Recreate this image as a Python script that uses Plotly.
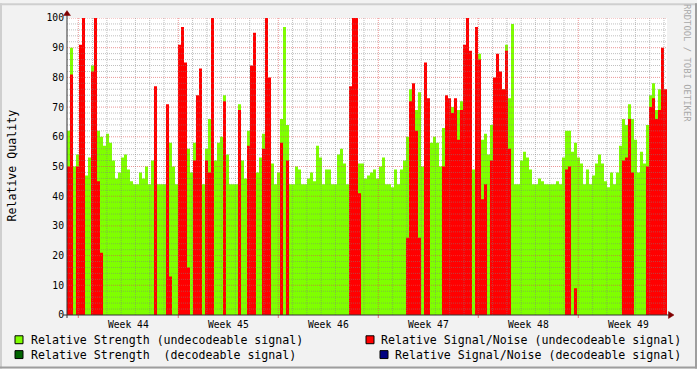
import plotly.graph_objects as go

# ---------------- data ----------------
STEP_DAYS = 0.21          # spacing of the samples (days)
FIRST_WEEK_START = 0.79   # days from the left edge of the graph to the start of week 44
N_DAYS = 42

# Relative Strength (undecodeable signal), green area
strength_undec = [
    62, 90, 50, 54, 77, 90, 47, 53, 84, 96,
    62, 60, 57, 61, 58, 52, 46, 48, 53, 54,
    49, 45, 44, 44, 48, 46, 50, 44, 52, 56,
    44, 44, 44, 60, 58, 50, 44, 60, 70, 56,
    56, 48, 58, 68, 58, 44, 56, 66, 58, 52,
    58, 60, 74, 54, 44, 44, 44, 71, 52, 46,
    62, 72, 70, 48, 53, 61, 80, 60, 51, 44,
    48, 66, 97, 64, 44, 44, 50, 49, 44, 44,
    46, 48, 45, 57, 53, 44, 49, 49, 44, 44,
    54, 56, 51, 44, 66, 80, 76, 51, 51, 46,
    47, 48, 49, 46, 50, 53, 44, 44, 43, 49,
    44, 49, 52, 60, 76, 74, 69, 75, 50, 62,
    58, 58, 60, 58, 50, 63, 63, 69, 70, 63,
    69, 72, 72, 71, 60, 49, 94, 88, 59, 61,
    54, 64, 72, 80, 69, 76, 91, 73, 98, 44,
    44, 52, 55, 53, 49, 44, 44, 46, 45, 44,
    44, 44, 44, 45, 44, 53, 62, 62, 55, 58,
    53, 51, 44, 49, 44, 47, 51, 54, 51, 45,
    43, 48, 44, 48, 57, 66, 64, 71, 66, 59,
    48, 55, 51, 64, 74, 78, 69, 76, 77, 73,
]

# Relative Signal/Noise (undecodeable signal), red area (0 = none)
snr_undec = [
    50, 81, 0, 50, 91, 100, 0, 0, 82, 100,
    45, 21, 0, 0, 0, 0, 0, 0, 0, 0,
    0, 0, 0, 0, 0, 0, 0, 0, 0, 77,
    0, 0, 0, 71, 13, 0, 0, 91, 97, 85,
    16, 0, 52, 74, 83, 0, 52, 48, 100, 0,
    0, 0, 72, 0, 0, 0, 0, 69, 0, 0,
    57, 84, 95, 0, 0, 56, 100, 80, 0, 0,
    0, 58, 0, 52, 0, 0, 0, 0, 0, 0,
    0, 0, 0, 0, 0, 0, 0, 0, 0, 0,
    0, 0, 0, 0, 77, 100, 100, 41, 0, 0,
    0, 0, 0, 0, 0, 0, 0, 0, 0, 0,
    0, 0, 0, 26, 72, 78, 62, 26, 0, 85,
    73, 0, 0, 0, 0, 50, 74, 73, 68, 73,
    59, 69, 91, 100, 89, 0, 97, 86, 39, 44,
    0, 52, 80, 88, 82, 76, 89, 56, 0, 0,
    0, 0, 0, 0, 0, 0, 0, 0, 0, 0,
    0, 0, 0, 0, 0, 0, 49, 50, 0, 9,
    0, 0, 0, 0, 0, 0, 0, 0, 0, 0,
    0, 0, 0, 0, 0, 52, 53, 66, 48, 0,
    0, 0, 0, 50, 70, 73, 66, 69, 90, 76,
]

week_labels = ["Week 44", "Week 45", "Week 46", "Week 47", "Week 48", "Week 49"]
y_tick_values = [0, 10, 20, 30, 40, 50, 60, 70, 80, 90, 100]

legend_items = [
    ("Relative Strength (undecodeable signal)", "#7FFF00"),
    ("Relative Strength \u00a0(decodeable signal)", "#006400"),
    ("Relative Signal/Noise (undecodeable signal)", "#FF0000"),
    ("Relative Signal/Noise (decodeable signal)", "#000080"),
]

# ---------------- figure ----------------
W, H = 697, 369
L, R, T, B = 67, 30, 15, 54
PW, PH = W - L - R, H - T - B

def px(xp):   # figure pixel x -> paper fraction
    return (xp - L) / PW

def py(yp):   # figure pixel y -> paper fraction
    return (H - B - yp) / PH

n = len(strength_undec)
xs = [i * STEP_DAYS for i in range(n)] + [n * STEP_DAYS]

fig = go.Figure()
fig.add_trace(go.Scatter(
    x=xs, y=strength_undec + [strength_undec[-1]], mode="lines",
    line=dict(width=0, shape="hv"), fill="tozeroy",
    fillcolor="#7FFF00", hoverinfo="skip", showlegend=False))
fig.add_trace(go.Scatter(
    x=xs, y=snr_undec + [snr_undec[-1]], mode="lines",
    line=dict(width=0, shape="hv"), fill="tozeroy",
    fillcolor="#FF0000", hoverinfo="skip", showlegend=False))

shapes = []
GRID = "rgba(128,128,128,0.5)"
MGRID = "rgba(222,79,79,0.6)"
DASH = "1px,1px"

# horizontal grid
for v in range(2, 101, 2):
    major = v % 10 == 0
    shapes.append(dict(type="line", xref="paper", yref="y", x0=0, x1=1, y0=v, y1=v,
                       line=dict(color=MGRID if major else GRID, width=1, dash=DASH),
                       layer="above"))
# vertical grid (days / weeks)
d = FIRST_WEEK_START
k = 0
while d < N_DAYS:
    major = k % 7 == 0
    shapes.append(dict(type="line", xref="x", yref="paper", x0=d, x1=d, y0=0, y1=1,
                       line=dict(color=MGRID if major else GRID, width=1, dash=DASH),
                       layer="above"))
    if major:
        shapes.append(dict(type="line", xref="x", yref="paper", x0=d, x1=d,
                           y0=py(315), y1=py(318),
                           line=dict(color="rgba(222,79,79,0.8)", width=1), layer="above"))
    d += 1
    k += 1

AXIS = "#333333"
ARROW = "#800000"
# axes lines
shapes.append(dict(type="line", xref="paper", yref="paper", x0=px(63), x1=px(670),
                   y0=0, y1=0, line=dict(color=AXIS, width=1), layer="above"))
shapes.append(dict(type="line", xref="paper", yref="paper", x0=0, x1=0,
                   y0=py(318), y1=py(10), line=dict(color=AXIS, width=1), layer="above"))
# arrows
shapes.append(dict(type="path", xref="paper", yref="paper",
                   path=f"M {px(67)} {py(7.5)} L {px(63.5)} {py(12.5)} L {px(70.5)} {py(12.5)} Z",
                   fillcolor=ARROW, line=dict(color=ARROW, width=0.5), layer="above"))
shapes.append(dict(type="path", xref="paper", yref="paper",
                   path=f"M {px(674)} {py(315)} L {px(668.5)} {py(311.5)} L {px(668.5)} {py(318.5)} Z",
                   fillcolor=ARROW, line=dict(color=ARROW, width=0.5), layer="above"))

# frame shading
shapes.append(dict(type="rect", xref="paper", yref="paper", x0=px(0), x1=px(W), y0=py(0), y1=py(2),
                   fillcolor="#CFCFCF", line=dict(width=0), layer="below"))
shapes.append(dict(type="rect", xref="paper", yref="paper", x0=px(0), x1=px(2), y0=py(0), y1=py(H),
                   fillcolor="#CFCFCF", line=dict(width=0), layer="below"))
shapes.append(dict(type="rect", xref="paper", yref="paper", x0=px(0), x1=px(W), y0=py(H - 2), y1=py(H),
                   fillcolor="#9E9E9E", line=dict(width=0), layer="below"))
shapes.append(dict(type="rect", xref="paper", yref="paper", x0=px(W - 2), x1=px(W), y0=py(0), y1=py(H),
                   fillcolor="#9E9E9E", line=dict(width=0), layer="below"))

# legend boxes and texts
MONO = "DejaVu Sans Mono"
annotations = []
legend_pos = [(15, 340, 30), (15, 355, 30), (366, 340, 380), (380, 355, 394)]
for (label, color), (bx, cy, tx) in zip(legend_items, legend_pos):
    shapes.append(dict(type="rect", xref="paper", yref="paper",
                       x0=px(bx), x1=px(bx + 8), y0=py(cy - 4), y1=py(cy + 4),
                       fillcolor=color, line=dict(color="black", width=1)))
    annotations.append(dict(text=label, xref="paper", yref="paper", x=px(tx), y=py(cy),
                            xanchor="left", yanchor="middle", showarrow=False,
                            borderpad=0, font=dict(family=MONO, size=11.6, color="black")))

annotations.append(dict(text="Relative Quality", xref="paper", yref="paper",
                        x=px(12), y=py(164), xanchor="center", yanchor="middle",
                        textangle=-90, showarrow=False, borderpad=0,
                        font=dict(family=MONO, size=11.6, color="black")))
annotations.append(dict(text="RRDTOOL / TOBI OETIKER", xref="paper", yref="paper",
                        x=px(687.5), y=py(60), xanchor="center", yanchor="middle",
                        textangle=90, showarrow=False, borderpad=0,
                        font=dict(family=MONO, size=8.9, color="#A8A8A8")))

week_centers = [FIRST_WEEK_START + 3.5 + 7 * i for i in range(len(week_labels))]

fig.update_layout(
    width=W, height=H,
    margin=dict(l=L, r=R, t=T, b=B, pad=0),
    paper_bgcolor="#F2F2F2", plot_bgcolor="#FFFFFF",
    showlegend=False,
    shapes=shapes, annotations=annotations,
    xaxis=dict(range=[0, N_DAYS], showgrid=False, zeroline=False, showline=False,
               tickvals=week_centers, ticktext=week_labels, ticks="",
               ticklabelstandoff=2,
               tickfont=dict(family=MONO, size=9.7, color="black"),
               fixedrange=True),
    yaxis=dict(range=[0, 100], showgrid=False, zeroline=False, showline=False,
               tickvals=y_tick_values, ticks="",
               ticklabelstandoff=2,
               tickfont=dict(family=MONO, size=9.7, color="black"),
               fixedrange=True),
)

fig.write_html("out.html")
